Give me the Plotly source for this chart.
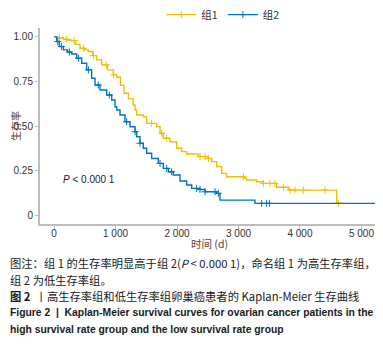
import plotly.graph_objects as go
import numpy as np

# Group 1 (high survival) step curve
g1_time = [0, 60, 152, 220, 287, 350, 423, 490, 558, 630, 694, 775, 870, 965, 1019, 1080, 1138,
           1210, 1290, 1317, 1344, 1452, 1507, 1670, 1724, 1777, 1886, 1995, 2076, 2157, 2347,
           2510, 2564, 2645, 2727, 2808, 3106, 3133, 3296, 3404, 3621, 3810, 4597, 4630]
g1_surv = [1.0, 0.995, 0.987, 0.983, 0.979, 0.958, 0.936, 0.927, 0.918, 0.895, 0.871, 0.843, 0.815,
           0.787, 0.774, 0.728, 0.684, 0.652, 0.618, 0.59, 0.562, 0.552, 0.515, 0.496, 0.459, 0.431,
           0.412, 0.375, 0.356, 0.343, 0.328, 0.318, 0.30, 0.272, 0.234, 0.215, 0.206, 0.197, 0.187,
           0.178, 0.156, 0.14, 0.068, 0.068]
g1_censor = [90, 200, 330, 480, 640, 850, 970, 1588, 1751, 1832, 2374, 2455, 2510, 3079, 3404,
             3512, 3593, 3729, 3838, 3919, 4054, 4407, 4624]

# Group 2 (low survival) step curve
g2_time = [0, 44, 86, 152, 220, 287, 369, 450, 531, 612, 667, 748, 856, 938, 992, 1019, 1073, 1154,
           1236, 1317, 1344, 1398, 1452, 1507, 1588, 1696, 1777, 1859, 1940, 2049, 2157, 2239, 2374,
           2455, 2645, 2699, 3268, 5220]
g2_surv = [1.0, 0.974, 0.946, 0.927, 0.915, 0.904, 0.880, 0.852, 0.815, 0.768, 0.730, 0.702, 0.674,
           0.646, 0.608, 0.590, 0.562, 0.524, 0.496, 0.468, 0.440, 0.403, 0.375, 0.347, 0.318, 0.290,
           0.262, 0.243, 0.225, 0.191, 0.169, 0.150, 0.144, 0.131, 0.122, 0.084, 0.066, 0.066]
g2_censor = [60, 120, 250, 400, 560, 720, 900, 1181, 1317, 1398, 1724, 1832, 1913, 2320, 2374,
             2455, 2618, 2672, 3377, 3458, 3502]

x_ticks = [0, 1000, 2000, 3000, 4000, 5000]
x_ticktext = ["0", "1 000", "2 000", "3 000", "4 000", "5 000"]
y_ticks = [0, 0.25, 0.5, 0.75, 1.0]
y_ticktext = ["0", "0.25", "0.50", "0.75", "1.00"]

C1 = "#EFC000"
C2 = "#0073C2"


def surv_at(times, survs, t):
    idx = np.searchsorted(times, t, side="right") - 1
    return survs[max(idx, 0)]


fig = go.Figure()
for name, tt, ss, cc, col in [("组1", g1_time, g1_surv, g1_censor, C1),
                              ("组2", g2_time, g2_surv, g2_censor, C2)]:
    fig.add_trace(go.Scatter(x=tt, y=ss, mode="lines", line=dict(color=col, width=1.4, shape="hv"),
                             name=name, legendgroup=name, showlegend=False))
    fig.add_trace(go.Scatter(x=cc, y=[surv_at(tt, ss, t) for t in cc], mode="markers",
                             marker=dict(symbol="cross-thin", size=5, line=dict(color=col, width=1)),
                             name=name, legendgroup=name, showlegend=False))
    # legend glyph: line with cross
    fig.add_trace(go.Scatter(x=[None], y=[None], mode="lines+markers",
                             line=dict(color=col, width=1.4),
                             marker=dict(symbol="cross-thin", size=5, line=dict(color=col, width=1)),
                             name=name, legendgroup=name, showlegend=True))

fig.add_annotation(x=110, y=0.2, xref="x", yref="y", text="<i>P</i> < 0.000 1", showarrow=False,
                   xanchor="left", yanchor="middle", font=dict(size=10, color="#222222",
                                                               family="Liberation Sans"))

# axis titles
title_font = dict(size=10.5, color="#5a4632", family="Noto Sans CJK SC")
fig.add_annotation(x=0.507, y=-0.097, xref="paper", yref="paper", text="时间 (d)", showarrow=False,
                   xanchor="center", yanchor="middle", font=title_font)
fig.add_annotation(x=-0.0746, y=0.5, xref="paper", yref="paper", text="生存率", showarrow=False,
                   textangle=-90, xanchor="center", yanchor="middle",
                   font=dict(size=10, color="#5a4632", family="Noto Sans CJK SC"))

caption_font = "Noto Sans CJK SC"
captions = [
    ("图注：组 1 的生存率明显高于组 2(<i>P</i> < 0.000 1)，命名组 1 为高生存率组，", -0.199, 11.3, caption_font),
    ("组 2 为低生存率组。", -0.286, 11.3, caption_font),
    ("<b>图 2</b>  丨高生存率组和低生存率组卵巢癌患者的 Kaplan-Meier 生存曲线", -0.367, 11.3, caption_font),
    ("<b>Figure 2  |  Kaplan-Meier survival curves for ovarian cancer patients in the</b>", -0.449, 10.35, "Liberation Sans"),
    ("<b>high survival rate group and the low survival rate group</b>", -0.536, 10.35, "Liberation Sans"),
]
for txt, yy, fs, fam in captions:
    fig.add_annotation(x=-0.0955, y=yy, xref="paper", yref="paper", text=txt, showarrow=False,
                       xanchor="left", yanchor="middle", align="left",
                       font=dict(size=fs, color="#1a1a1a", family=fam))

axis_common = dict(showline=True, linecolor="#BDBDBD", linewidth=2, ticks="outside", ticklen=3,
                   tickcolor="#BDBDBD", tickwidth=1, showgrid=False, zeroline=False, automargin=False,
                   tickfont=dict(size=10, color="#333333", family="Liberation Sans"))

fig.update_layout(
    width=383, height=349,
    margin=dict(l=32, r=16, t=20, b=133, autoexpand=False),
    paper_bgcolor="white", plot_bgcolor="white",
    showlegend=True,
    legend=dict(orientation="h", x=0.561, y=0.981, xref="container", yref="container",
                xanchor="center", yanchor="middle",
                font=dict(size=10.5, color="#333333", family="Noto Sans CJK SC"),
                itemwidth=30, tracegroupgap=0, bgcolor="rgba(0,0,0,0)"),
    xaxis=dict(range=[-228, 5220], tickvals=x_ticks, ticktext=x_ticktext, ticklabelstandoff=-4,
               **axis_common),
    yaxis=dict(range=[-0.05, 1.05], tickvals=y_ticks, ticktext=y_ticktext, **axis_common),
)

fig.write_html("out.html")
